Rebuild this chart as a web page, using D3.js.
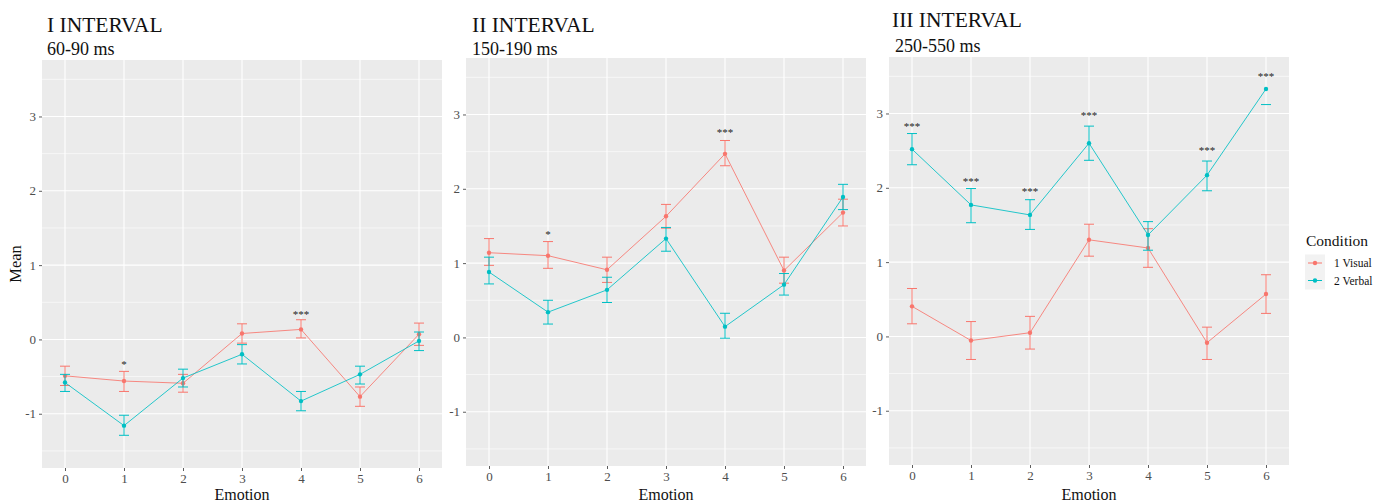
<!DOCTYPE html>
<html>
<head>
<meta charset="utf-8">
<script src="https://cdn.jsdelivr.net/npm/d3@7"></script>
<style>
  body { margin: 0; background: #fff; }
  text { font-family: "Liberation Serif", "Times New Roman", serif; }
</style>
</head>
<body>
<svg id="chart" width="1397" height="504"></svg>
<script>

var emotions = [0, 1, 2, 3, 4, 5, 6],
    yTicks = [-1, 0, 1, 2, 3],
    yMinor = [-1.5, -0.5, 0.5, 1.5, 2.5, 3.5],
    titles = ["I INTERVAL", "II INTERVAL", "III INTERVAL"],
    subtitles = ["60-90 ms", "150-190 ms", "250-550 ms"],
    conditions = ["1 Visual", "2 Verbal"];

// I interval
var visual1   = [-0.49, -0.56, -0.59, 0.08, 0.135, -0.77, 0.07],
    visual1Lo = [-0.62, -0.70, -0.71, -0.05, 0.02, -0.90, -0.08],
    visual1Hi = [-0.36, -0.43, -0.47, 0.21, 0.265, -0.64, 0.22],
    verbal1   = [-0.58, -1.16, -0.52, -0.20, -0.83, -0.47, -0.02],
    verbal1Lo = [-0.70, -1.29, -0.64, -0.33, -0.96, -0.60, -0.15],
    verbal1Hi = [-0.47, -1.02, -0.40, -0.07, -0.70, -0.36, 0.10],
    sig1  = ["", "*", "", "", "***", "", ""],
    sig1Y = [null, -0.30, null, null, 0.37, null, null];

// II interval
var visual2   = [1.14, 1.10, 0.91, 1.63, 2.47, 0.90, 1.68],
    visual2Lo = [0.97, 0.93, 0.74, 1.47, 2.31, 0.73, 1.50],
    visual2Hi = [1.33, 1.29, 1.08, 1.79, 2.65, 1.08, 1.86],
    verbal2   = [0.88, 0.34, 0.64, 1.33, 0.145, 0.71, 1.89],
    verbal2Lo = [0.72, 0.18, 0.47, 1.16, -0.01, 0.57, 1.72],
    verbal2Hi = [1.08, 0.50, 0.81, 1.48, 0.325, 0.86, 2.06],
    sig2  = ["", "*", "", "", "***", "", ""],
    sig2Y = [null, 1.42, null, null, 2.79, null, null];

// III interval
var visual3   = [0.405, -0.055, 0.05, 1.30, 1.19, -0.085, 0.57],
    visual3Lo = [0.17, -0.31, -0.17, 1.08, 0.93, -0.31, 0.31],
    visual3Hi = [0.645, 0.20, 0.27, 1.51, 1.45, 0.125, 0.83],
    verbal3   = [2.52, 1.77, 1.635, 2.60, 1.365, 2.17, 3.33],
    verbal3Lo = [2.31, 1.53, 1.44, 2.37, 1.16, 1.96, 3.12],
    verbal3Hi = [2.73, 1.99, 1.84, 2.83, 1.545, 2.36, null],
    sig3  = ["***", "***", "***", "***", "", "***", "***"],
    sig3Y = [2.86, 2.12, 1.99, 3.00, null, 2.54, 3.53];

var colors = ["#F8766D", "#00BFC4"];

var panels = [
    {left: 42,  top: 60, tx: 47,  ty: 32, sx: 47,  sy: 55,
     series: [[visual1, visual1Lo, visual1Hi], [verbal1, verbal1Lo, verbal1Hi]], sig: sig1, sigY: sig1Y},
    {left: 466, top: 58, tx: 472, ty: 32, sx: 472, sy: 55,
     series: [[visual2, visual2Lo, visual2Hi], [verbal2, verbal2Lo, verbal2Hi]], sig: sig2, sigY: sig2Y},
    {left: 889, top: 57, tx: 892, ty: 27, sx: 895, sy: 52,
     series: [[visual3, visual3Lo, visual3Hi], [verbal3, verbal3Lo, verbal3Hi]], sig: sig3, sigY: sig3Y}
];

var pw = 400, ph = 408,
    svg = d3.select('#chart');

panels.forEach(function(p, pi) {

    var x = d3.scalePoint().domain(emotions).range([p.left + 23, p.left + pw - 23]),
        y = d3.scaleLinear().domain([-1.73, 3.76]).range([p.top + ph, p.top]);

    var g = svg.append("g");

    g.append("rect")
        .attr("x", p.left).attr("y", p.top)
        .attr("width", pw).attr("height", ph)
        .attr("fill", "#EBEBEB");

    // grid
    g.selectAll(".minor").data(yMinor).enter().append("line")
        .attr("x1", p.left).attr("x2", p.left + pw)
        .attr("y1", function(d) { return y(d); }).attr("y2", function(d) { return y(d); })
        .attr("stroke", "#fff").attr("stroke-width", 0.6);

    g.selectAll(".majory").data(yTicks).enter().append("line")
        .attr("x1", p.left).attr("x2", p.left + pw)
        .attr("y1", function(d) { return y(d); }).attr("y2", function(d) { return y(d); })
        .attr("stroke", "#fff").attr("stroke-width", 1.1);

    g.selectAll(".majorx").data(emotions).enter().append("line")
        .attr("y1", p.top).attr("y2", p.top + ph)
        .attr("x1", function(d) { return x(d); }).attr("x2", function(d) { return x(d); })
        .attr("stroke", "#fff").attr("stroke-width", 1.1);

    // axes
    var ya = g.append("g")
        .attr("transform", "translate(" + p.left + ",0)")
        .call(d3.axisLeft(y).tickValues(yTicks).tickSize(3).tickPadding(3).tickFormat(function(d) { return String(d).replace("\u2212", "-"); }));
    var xa = g.append("g")
        .attr("transform", "translate(0," + (p.top + ph) + ")")
        .call(d3.axisBottom(x).tickSize(3).tickPadding(3));

    [ya, xa].forEach(function(a) {
        a.select(".domain").remove();
        a.selectAll(".tick line").attr("stroke", "#333").attr("stroke-width", 0.8);
        a.selectAll(".tick text")
            .attr("fill", "#4D4D4D")
            .style("font-size", "13px")
            .style("font-family", '"Liberation Serif", serif');
    });

    // titles
    g.append("text").attr("x", p.tx).attr("y", p.ty)
        .style("font-size", "21.5px").attr("fill", "#111").text(titles[pi]);
    g.append("text").attr("x", p.sx).attr("y", p.sy)
        .style("font-size", "18px").attr("fill", "#111").text(subtitles[pi]);

    g.append("text")
        .attr("x", p.left + pw / 2).attr("y", 500)
        .attr("text-anchor", "middle")
        .style("font-size", "16px").attr("fill", "#111")
        .text("Emotion");

    // series
    p.series.forEach(function(s, si) {
        var mean = s[0], lo = s[1], hi = s[2],
            pts = emotions.map(function(e, i) { return {e: e, m: mean[i], lo: lo[i], hi: hi[i]}; }),
            sg = g.append("g").attr("stroke", colors[si]).attr("fill", colors[si]);

        sg.append("path")
            .datum(pts)
            .attr("fill", "none")
            .attr("stroke-width", 1)
            .attr("opacity", 0.85)
            .attr("d", d3.line().x(function(d) { return x(d.e); }).y(function(d) { return y(d.m); }));

        var eb = sg.selectAll(".eb").data(pts).enter().append("g").attr("stroke-width", 1);

        eb.filter(function(d) { return d.hi != null; }).append("line")
            .attr("x1", function(d) { return x(d.e); }).attr("x2", function(d) { return x(d.e); })
            .attr("y1", function(d) { return y(d.lo); })
            .attr("y2", function(d) { return y(d.hi); });

        eb.append("line")
            .attr("x1", function(d) { return x(d.e) - 5; }).attr("x2", function(d) { return x(d.e) + 5; })
            .attr("y1", function(d) { return y(d.lo); }).attr("y2", function(d) { return y(d.lo); });

        eb.filter(function(d) { return d.hi != null; }).append("line")
            .attr("x1", function(d) { return x(d.e) - 5; }).attr("x2", function(d) { return x(d.e) + 5; })
            .attr("y1", function(d) { return y(d.hi); }).attr("y2", function(d) { return y(d.hi); });

        sg.selectAll("circle").data(pts).enter().append("circle")
            .attr("cx", function(d) { return x(d.e); })
            .attr("cy", function(d) { return y(d.m); })
            .attr("r", 2.2)
            .attr("stroke", "none");
    });

    // significance stars
    g.selectAll(".sig").data(emotions.filter(function(e, i) { return p.sig[i] !== ""; })).enter().append("text")
        .attr("x", function(d) { return x(d); })
        .attr("y", function(d) { return y(p.sigY[d]) + 6; })
        .attr("text-anchor", "middle")
        .style("font-size", "11px")
        .attr("fill", "#222")
        .text(function(d) { return p.sig[d]; });
});

// y-axis title
svg.append("text")
    .attr("transform", "translate(21," + (60 + ph / 2) + ") rotate(-90)")
    .attr("text-anchor", "middle")
    .style("font-size", "16.5px").attr("fill", "#111")
    .text("Mean");

// legend
var legend = svg.append("g").attr("transform", "translate(1305,0)");

legend.append("text").attr("x", 1).attr("y", 246)
    .style("font-size", "15.5px").attr("fill", "#111").text("Condition");

conditions.forEach(function(c, i) {
    var cy = 263 + i * 17.5;
    legend.append("rect").attr("x", 0).attr("y", cy - 8.5).attr("width", 20).attr("height", 17.5).attr("fill", "#F2F2F2");
    legend.append("line").attr("x1", 3).attr("x2", 17).attr("y1", cy).attr("y2", cy)
        .attr("stroke", colors[i]).attr("stroke-width", 1);
    legend.append("circle").attr("cx", 10).attr("cy", cy).attr("r", 2.2).attr("fill", colors[i]);
    legend.append("text").attr("x", 29).attr("y", cy + 4)
        .style("font-size", "11.5px").attr("fill", "#111").text(c);
});

</script>
</body>
</html>
